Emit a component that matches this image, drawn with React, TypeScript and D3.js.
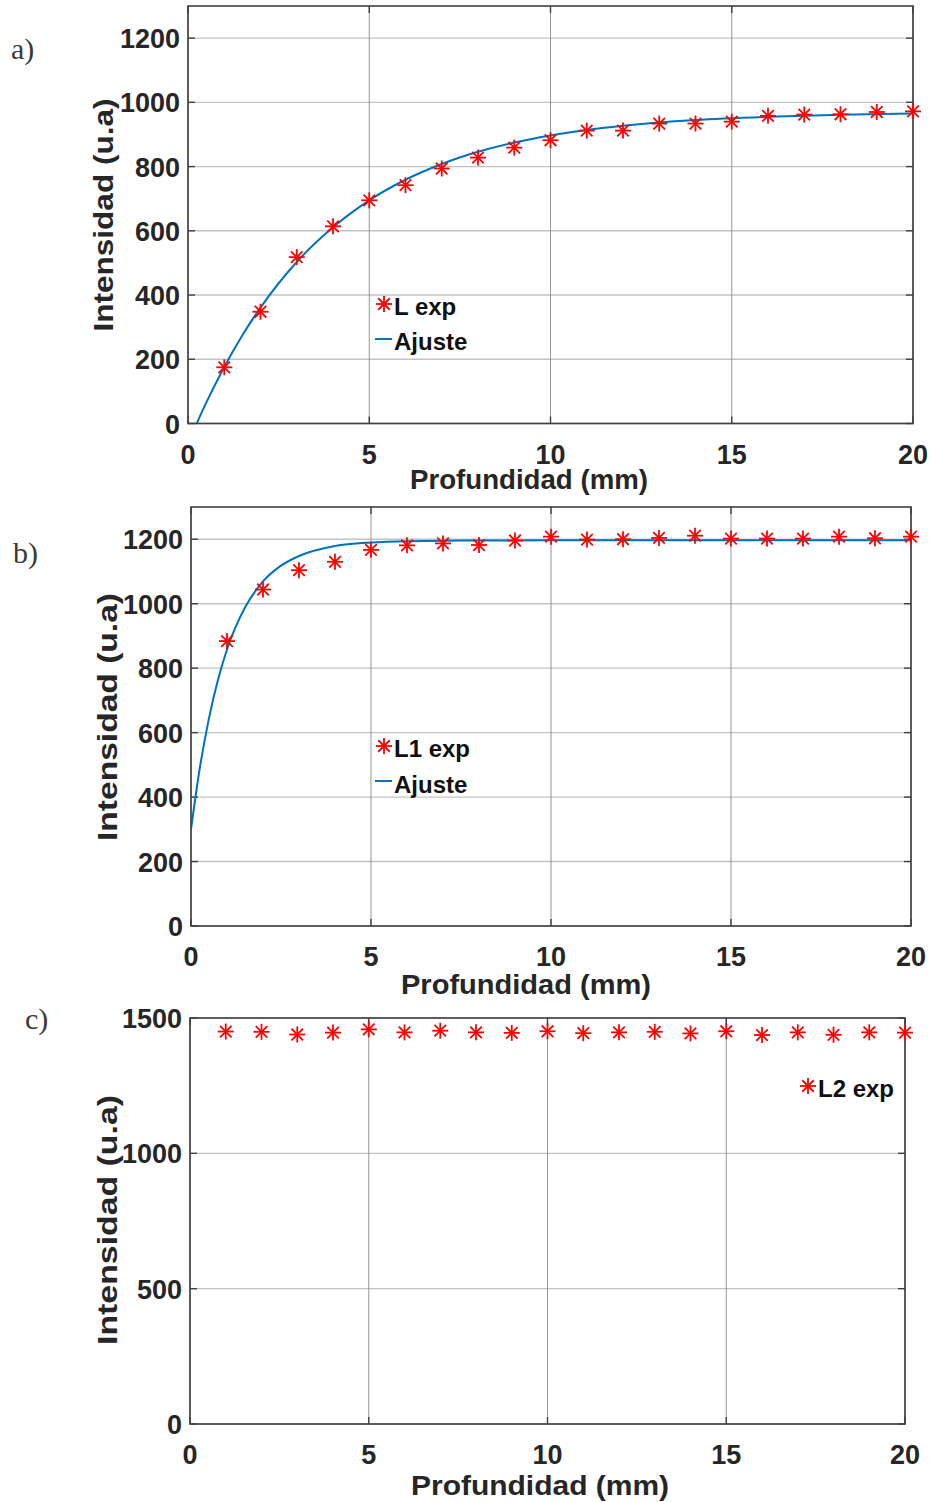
import React from "react";
import * as d3 from "d3";

// ---------- Data ----------
const depthMm = [1, 2, 3, 4, 5, 6, 7, 8, 9, 10, 11, 12, 13, 14, 15, 16, 17, 18, 19, 20];

// Panel a
const lExp = [175, 348, 518, 614, 695, 742, 794, 828, 859, 882, 912, 912, 934, 934, 940, 958, 962, 963, 970, 972];
const fitAx = [0.24, 0.5, 1, 1.5, 2, 3, 4, 5, 6, 7, 8, 9, 10, 12, 14, 16, 18, 20];
const fitAy = [0, 64, 176, 275, 361, 503, 611, 695, 759, 808, 846, 875, 897, 927, 945, 955, 961, 965];

// Panel b
const l1Exp = [884, 1044, 1104, 1130, 1167, 1181, 1187, 1182, 1196, 1208, 1199, 1200, 1204, 1211, 1202, 1202, 1202, 1208, 1203, 1208];
const fitBx = [0, 0.25, 0.5, 0.75, 1, 1.5, 2, 2.5, 3, 4, 5, 6, 8, 10, 15, 20];
const fitBy = [300, 494, 645, 764, 858, 988, 1069, 1118, 1148, 1179, 1190, 1194, 1196, 1197, 1197, 1197];

// Panel c
const l2Exp = [1450, 1449, 1439, 1446, 1458, 1447, 1453, 1447, 1445, 1451, 1444, 1447, 1449, 1443, 1451, 1437, 1447, 1438, 1447, 1446];

const xTicks = [0, 5, 10, 15, 20];
const yTicksAB = [0, 200, 400, 600, 800, 1000, 1200];
const yTicksC = [0, 500, 1000, 1500];

const xLabel = "Profundidad (mm)";
const yLabel = "Intensidad (u.a)";

// ---------- Helpers ----------
const FONT = "'Liberation Sans', Arial, sans-serif";

function Asterisk({ x, y, r = 8 }: { x: number; y: number; r?: number }) {
  const d = r * 0.72;
  return (
    <g stroke="#ff0000" strokeWidth={1.8} strokeLinecap="butt">
      <line x1={x - r} y1={y} x2={x + r} y2={y} />
      <line x1={x} y1={y - r} x2={x} y2={y + r} />
      <line x1={x - d} y1={y - d} x2={x + d} y2={y + d} />
      <line x1={x - d} y1={y + d} x2={x + d} y2={y - d} />
    </g>
  );
}

type PanelProps = {
  id: string;
  left: number;
  right: number;
  top: number;
  bottom: number;
  yMax: number;
  yTicks: number[];
  points: number[];
  fitX?: number[];
  fitY?: number[];
  legend: { mx: number; my: number; label: string; lineY?: number; lineBaseline?: number; textBaseline: number; textX: number };
  xLabelX: number;
  xLabelY: number;
  xLabelLen: number;
  yLabelX: number;
  yLabelY: number;
  yLabelLen: number;
  panelLabel: string;
  plX: number;
  plY: number;
};

function Panel(p: PanelProps) {
  const x = d3.scaleLinear().domain([0, 20]).range([p.left, p.right]);
  const y = d3.scaleLinear().domain([0, p.yMax]).range([p.bottom, p.top]);
  const line = d3
    .line<number>()
    .x((_, i) => x(p.fitX![i]))
    .y((v) => y(v))
    .curve(d3.curveMonotoneX);
  const tickLen = 7;
  return (
    <g>
      <defs>
        <clipPath id={`clip-${p.id}`}>
          <rect x={p.left} y={p.top} width={p.right - p.left} height={p.bottom - p.top} />
        </clipPath>
      </defs>
      <rect x={p.left} y={p.top} width={p.right - p.left} height={p.bottom - p.top} fill="#fff" />
      {p.yTicks.map((t) => (
        <line key={`hg${t}`} x1={p.left} x2={p.right} y1={y(t)} y2={y(t)} stroke="#c4c4c4" strokeWidth={1.4} />
      ))}
      {xTicks.map((t) => (
        <line key={`vg${t}`} x1={x(t)} x2={x(t)} y1={p.top} y2={p.bottom} stroke="#8a8a8a" strokeWidth={0.9} />
      ))}
      {p.yTicks.map((t) => (
        <g key={`yt${t}`} stroke="#404040" strokeWidth={1.4}>
          <line x1={p.left} x2={p.left + tickLen} y1={y(t)} y2={y(t)} />
          <line x1={p.right} x2={p.right - tickLen} y1={y(t)} y2={y(t)} />
        </g>
      ))}
      {xTicks.map((t) => (
        <g key={`xt${t}`} stroke="#404040" strokeWidth={1.4}>
          <line x1={x(t)} x2={x(t)} y1={p.bottom} y2={p.bottom - tickLen} />
          <line x1={x(t)} x2={x(t)} y1={p.top} y2={p.top + tickLen} />
        </g>
      ))}
      {p.fitX && p.fitY && (
        <path d={line(p.fitY) || ""} fill="none" stroke="#0072BD" strokeWidth={2} clipPath={`url(#clip-${p.id})`} />
      )}
      <rect x={p.left} y={p.top} width={p.right - p.left} height={p.bottom - p.top} fill="none" stroke="#404040" strokeWidth={1.6} />
      {p.points.map((v, i) => (
        <Asterisk key={`pt${i}`} x={x(depthMm[i])} y={y(v)} />
      ))}
      {p.yTicks.map((t) => (
        <text key={`yl${t}`} x={p.left - 8} y={y(t) + 10} textAnchor="end" fontFamily={FONT} fontWeight="bold" fontSize={27} fill="#262626">
          {t}
        </text>
      ))}
      {xTicks.map((t) => (
        <text key={`xl${t}`} x={x(t)} y={p.bottom + 40} textAnchor="middle" fontFamily={FONT} fontWeight="bold" fontSize={27} fill="#262626">
          {t}
        </text>
      ))}
      <text x={p.xLabelX} y={p.xLabelY} textAnchor="middle" fontFamily={FONT} fontWeight="bold" fontSize={28} fill="#262626" textLength={p.xLabelLen} lengthAdjust="spacingAndGlyphs">
        {xLabel}
      </text>
      <text transform={`translate(${p.yLabelX},${p.yLabelY}) rotate(-90)`} textAnchor="middle" fontFamily={FONT} fontWeight="bold" fontSize={28} fill="#262626" textLength={p.yLabelLen} lengthAdjust="spacingAndGlyphs">
        {yLabel}
      </text>
      <Asterisk x={p.legend.mx} y={p.legend.my} />
      <text x={p.legend.textX} y={p.legend.textBaseline} fontFamily={FONT} fontWeight="bold" fontSize={24} fill="#111">
        {p.legend.label}
      </text>
      {p.legend.lineY !== undefined && (
        <>
          <line x1={p.legend.mx - 9} x2={p.legend.mx + 8} y1={p.legend.lineY} y2={p.legend.lineY} stroke="#0072BD" strokeWidth={2} />
          <text x={p.legend.textX} y={p.legend.lineBaseline} fontFamily={FONT} fontWeight="bold" fontSize={24} fill="#111">
            Ajuste
          </text>
        </>
      )}
      <text x={p.plX} y={p.plY} fontFamily="'Liberation Serif', 'DejaVu Serif', serif" fontSize={30} fill="#3a3a3a">
        {p.panelLabel}
      </text>
    </g>
  );
}

export default function App() {
  return (
    <svg width={932} height={1502} viewBox="0 0 932 1502" style={{ position: "absolute", left: 0, top: 0, background: "#fff" }}>
      <rect width={932} height={1502} fill="#fff" />
      <Panel
        id="a"
        left={188}
        right={913}
        top={6}
        bottom={423.5}
        yMax={1300}
        yTicks={yTicksAB}
        points={lExp}
        fitX={fitAx}
        fitY={fitAy}
        legend={{ mx: 384, my: 304, label: "L exp", lineY: 339, lineBaseline: 350, textBaseline: 315, textX: 394 }}
        xLabelX={529}
        xLabelY={489}
        xLabelLen={238}
        yLabelX={113}
        yLabelY={215}
        yLabelLen={233}
        panelLabel="a)"
        plX={11}
        plY={59}
      />
      <Panel
        id="b"
        left={191}
        right={911}
        top={507}
        bottom={926}
        yMax={1300}
        yTicks={yTicksAB}
        points={l1Exp}
        fitX={fitBx}
        fitY={fitBy}
        legend={{ mx: 384, my: 746, label: "L1 exp", lineY: 781, lineBaseline: 793, textBaseline: 757, textX: 394 }}
        xLabelX={526}
        xLabelY={994}
        xLabelLen={250}
        yLabelX={117}
        yLabelY={717}
        yLabelLen={248}
        panelLabel="b)"
        plX={13}
        plY={563}
      />
      <Panel
        id="c"
        left={190}
        right={905}
        top={1018}
        bottom={1424}
        yMax={1500}
        yTicks={yTicksC}
        points={l2Exp}
        legend={{ mx: 808, my: 1086, label: "L2 exp", textBaseline: 1097, textX: 818 }}
        xLabelX={540}
        xLabelY={1495}
        xLabelLen={258}
        yLabelX={117}
        yLabelY={1220}
        yLabelLen={250}
        panelLabel="c)"
        plX={25}
        plY={1029}
      />
    </svg>
  );
}
